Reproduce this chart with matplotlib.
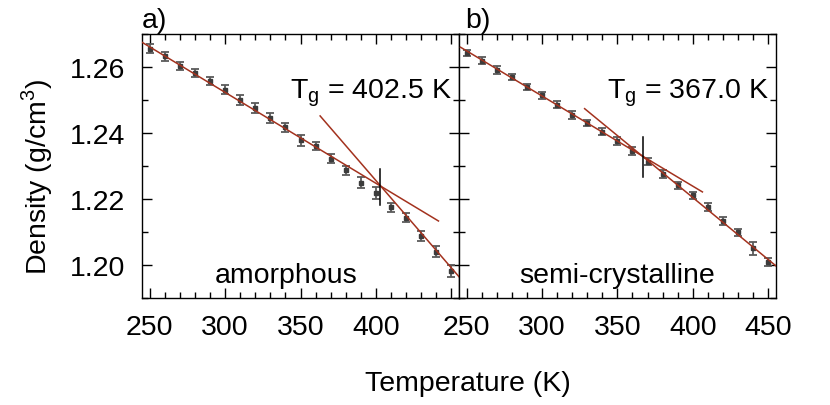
import numpy as np
import matplotlib
matplotlib.use("Agg")
import matplotlib.pyplot as plt

plt.rcParams["font.family"] = ["Liberation Sans", "DejaVu Sans"]
plt.rcParams["mathtext.fontset"] = "custom"
plt.rcParams["mathtext.rm"] = "Liberation Sans"
FS = 20.5

# temperatures (K), shared by both samples
temp = [250, 260, 270, 280, 290, 300, 310, 320, 330, 340, 350,
        360, 370, 380, 390, 400, 410, 420, 430, 440, 450]

# a) amorphous
amo_rho = [1.2655, 1.2633, 1.2603, 1.2582, 1.2558, 1.2531, 1.2499, 1.2477, 1.2446, 1.2417, 1.2378,
           1.2361, 1.2323, 1.2287, 1.2250, 1.2219, 1.2175, 1.2144, 1.2089, 1.2041, 1.1982]
amo_err = [0.0014, 0.0014, 0.0012, 0.0013, 0.0011, 0.0014, 0.0015, 0.0015, 0.0016, 0.0015, 0.0017,
           0.0013, 0.0014, 0.0013, 0.0016, 0.0019, 0.0014, 0.0013, 0.0015, 0.0017, 0.0018]
amo_fit_glass = ([245, 441.4], [1.2675, 1.2134])
amo_fit_melt = ([363, 456], [1.2452, 1.1960])
amo_tg, amo_tg_rho = 402.5, (1.2182, 1.2292)

# b) semi-crystalline
sc_rho = [1.2643, 1.2619, 1.2591, 1.2569, 1.2540, 1.2514, 1.2486, 1.2456, 1.2431, 1.2404, 1.2375,
          1.2346, 1.2313, 1.2276, 1.2242, 1.2212, 1.2175, 1.2134, 1.2100, 1.2051, 1.2011]
sc_err = [0.0010, 0.0010, 0.0011, 0.0009, 0.0010, 0.0010, 0.0011, 0.0012, 0.0010, 0.0010, 0.0012,
          0.0012, 0.0011, 0.0012, 0.0011, 0.0010, 0.0012, 0.0012, 0.0011, 0.0020, 0.0012]
sc_fit_glass = ([246, 406.4], [1.2660, 1.2222])
sc_fit_melt = ([328.3, 456], [1.2474, 1.1995])
sc_tg, sc_tg_rho = 367.0, (1.2267, 1.2388)

FIT = "#a3321e"

fig = plt.figure(figsize=(8.3, 4.06), dpi=100)
axL = fig.add_axes([142 / 830, 1 - 299.3 / 406, 317 / 830, 264.3 / 406])
axR = fig.add_axes([459 / 830, 1 - 299.3 / 406, 316.7 / 830, 264.3 / 406])

panels = [
    (axL, amo_rho, amo_err, amo_fit_glass, amo_fit_melt, amo_tg, amo_tg_rho, "amorphous", 0.454),
    (axR, sc_rho, sc_err, sc_fit_glass, sc_fit_melt, sc_tg, sc_tg_rho, "semi-crystalline", 0.498),
]
for ax, rho, err, fg, fm, tg, tgr, name, nx in panels:
    ax.errorbar(temp, rho, yerr=err, fmt="s", ms=3.2, color="#3c3c3c", ecolor="#5a5a5a",
                elinewidth=1.3, capsize=3, capthick=1.3, zorder=2)
    ax.plot(fg[0], fg[1], color=FIT, lw=1.1, zorder=3)
    ax.plot(fm[0], fm[1], color=FIT, lw=1.1, zorder=3)
    ax.plot([tg, tg], tgr, color="black", lw=1.1, zorder=4)
    ax.text(0.979, 0.758, r"$\mathregular{T_g}$ = %.1f K" % tg, transform=ax.transAxes,
            ha="right", va="baseline", fontsize=FS)
    ax.text(nx, 0.062, name, transform=ax.transAxes, ha="center", va="baseline", fontsize=FS)
    ax.set_xlim(245, 455)
    ax.set_ylim(1.19, 1.27)
    ax.set_xticks([250, 300, 350, 400, 450])
    ax.set_xticks(np.arange(250, 451, 10), minor=True)
    ax.set_yticks([1.20, 1.22, 1.24, 1.26])
    ax.set_yticks([1.19, 1.21, 1.23, 1.25, 1.27], minor=True)
    ax.tick_params(which="both", direction="in", top=True, right=True, width=1.0,
                   labelsize=FS, pad=11)
    ax.tick_params(which="major", length=7)
    ax.tick_params(which="minor", length=4)
    for s in ax.spines.values():
        s.set_linewidth(1.0)

axL.set_xticklabels(["250", "300", "350", "400", ""])
axL.set_yticklabels(["1.20", "1.22", "1.24", "1.26"])
axL.tick_params(axis="y", pad=12)
axR.tick_params(axis="y", labelleft=False)

fig.text(142 / 830, 1 - 28 / 406, "a)", fontsize=FS, ha="left", va="baseline")
fig.text(465 / 830, 1 - 28 / 406, "b)", fontsize=FS, ha="left", va="baseline")
fig.text(0.045, 0.565, r"Density (g/cm$^\mathregular{3}$)", rotation=90,
         ha="center", va="center", fontsize=FS)
fig.text(0.564, 1 - 391 / 406, "Temperature (K)", ha="center", va="baseline", fontsize=FS)

fig.savefig("out.png", dpi=100)
